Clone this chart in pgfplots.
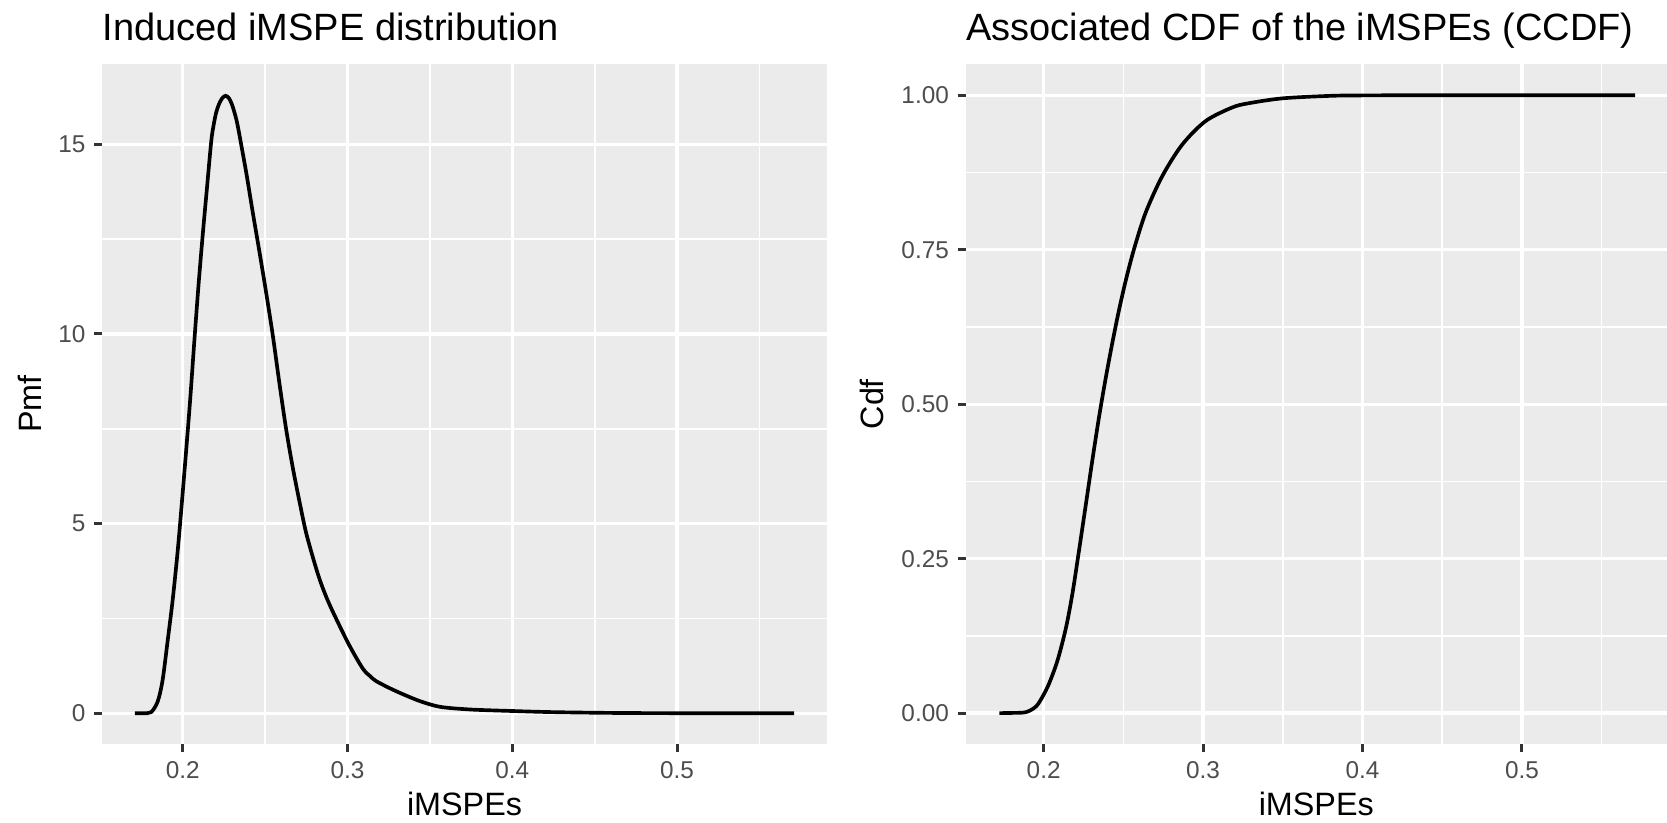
\documentclass[border=0pt]{standalone}
\usepackage{fontspec}
\setmainfont{Liberation Sans}
\usepackage{pgfplots}
\pgfplotsset{compat=1.18}
\definecolor{panelbg}{HTML}{EBEBEB}
\definecolor{ticktext}{HTML}{4D4D4D}
\definecolor{tickmark}{HTML}{333333}

\pgfplotsset{
  ggpanel/.style={
    scale only axis,
    anchor=south west,
    height=203.9pt,
    axis background/.style={fill=panelbg},
    axis line style={draw=none},
    tick align=outside,
    xtick pos=bottom, ytick pos=left,
    major tick length=2.3pt,
    minor tick length=0pt,
    tick style={tickmark, line width=0.9pt},
    grid=both,
    major grid style={white, line width=1.0pt},
    minor grid style={white, line width=0.5pt},
    xmin=0.151, xmax=0.591,
    xtick={0.2,0.3,0.4,0.5},
    xticklabels={0.2,0.3,0.4,0.5},
    minor xtick={0.15,0.25,0.35,0.45,0.55},
    tick label style={font=\fontsize{7.3}{8}\selectfont, text=ticktext, inner sep=0pt},
    xticklabel style={anchor=base, yshift=-7.9pt},
    yticklabel style={anchor=east, xshift=-2.5pt},
    title style={at={(axis description cs:0,1)}, anchor=base west, yshift=1.1pt,
      inner sep=0pt, font=\fontsize{11.4}{13}\selectfont},
    xlabel style={at={(axis description cs:0.5,0)}, anchor=base, yshift=-21.3pt,
      inner sep=0pt, font=\fontsize{9.7}{11}\selectfont},
    xlabel={iMSPEs},
  },
  ggline/.style={black, line width=1.1pt, smooth, tension=0.5},
}

\begin{document}
\begin{tikzpicture}
\path[use as bounding box] (0,0) rectangle (500.1pt,246.6pt);

% left panel: density
\begin{axis}[ggpanel,
  at={(30.6pt,23.4pt)}, width=217.5pt,
  title={Induced iMSPE distribution},
  ylabel={Pmf},
  ylabel style={at={(axis description cs:-0.0832,0.5)}, anchor=base,
    inner sep=0pt, font=\fontsize{9.7}{11}\selectfont},
  ymin=-0.81, ymax=17.11,
  ytick={0,5,10,15}, yticklabels={0,5,10,15},
  minor ytick={2.5,7.5,12.5},
]
\addplot[ggline] coordinates {
  (0.1710,0) (0.1760,0.003) (0.1808,0.03) (0.1848,0.31) (0.1878,0.88)
  (0.1909,1.93) (0.1939,2.99) (0.1970,4.31) (0.1996,5.62) (0.2021,6.94)
  (0.2045,8.26) (0.2071,9.85) (0.2096,11.30) (0.2122,12.65) (0.2146,13.80)
  (0.2173,15.08) (0.2188,15.52) (0.2203,15.84) (0.2220,16.06) (0.2240,16.22)
  (0.2260,16.28) (0.2280,16.22) (0.2298,16.06) (0.2314,15.84) (0.2330,15.57)
  (0.2349,15.13) (0.2386,14.24) (0.2426,13.18) (0.2467,12.13)
  (0.2507,11.07) (0.2547,9.95) (0.2590,8.60) (0.2629,7.45) (0.2669,6.45)
  (0.2710,5.55) (0.2751,4.72) (0.2811,3.80) (0.2850,3.30) (0.2900,2.78)
  (0.3004,1.85) (0.3091,1.19) (0.3137,0.98) (0.3173,0.85) (0.3257,0.66)
  (0.3338,0.50) (0.3440,0.32) (0.3562,0.17) (0.3744,0.10) (0.4001,0.06)
  (0.4251,0.03) (0.4656,0.008) (0.5200,0.001) (0.5710,0)
};
\end{axis}

% right panel: cdf
\begin{axis}[ggpanel,
  at={(289.65pt,23.4pt)}, width=210.45pt,
  title={Associated CDF of the iMSPEs (CCDF)},
  ylabel={Cdf},
  ylabel style={at={(axis description cs:-0.1174,0.5)}, anchor=base,
    inner sep=0pt, font=\fontsize{9.7}{11}\selectfont},
  ymin=-0.05, ymax=1.05,
  ytick={0,0.25,0.5,0.75,1}, yticklabels={0.00,0.25,0.50,0.75,1.00},
  minor ytick={0.125,0.375,0.625,0.875},
]
\addplot[ggline] coordinates {
  (0.1723,0) (0.1800,0.0003) (0.1890,0.0016) (0.1953,0.011) (0.1994,0.027)
  (0.2036,0.049) (0.2088,0.086) (0.2140,0.138) (0.2181,0.194) (0.2223,0.265)
  (0.2269,0.345) (0.2306,0.410) (0.2348,0.480) (0.2390,0.543) (0.2430,0.598)
  (0.2470,0.649) (0.2515,0.700) (0.2567,0.751) (0.2640,0.810) (0.2744,0.869)
  (0.2869,0.920) (0.3015,0.958) (0.3181,0.980) (0.3286,0.987) (0.3500,0.995)
  (0.3800,0.999) (0.4000,0.9997) (0.4500,1) (0.5710,1)
};
\end{axis}
\end{tikzpicture}
\end{document}
